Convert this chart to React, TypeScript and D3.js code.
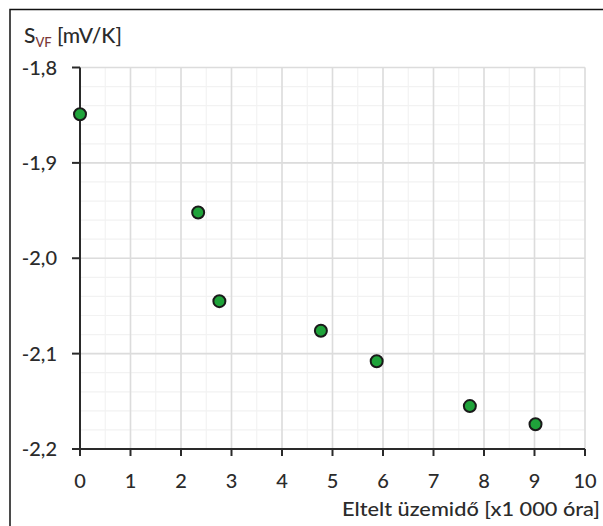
import React from "react";
import * as d3 from "d3";

const hoursK = [0, 2.34, 2.76, 4.77, 5.875, 7.72, 9.02];
const svfValues = [-1.849, -1.952, -2.045, -2.076, -2.108, -2.155, -2.174];
const xTicks = [0, 1, 2, 3, 4, 5, 6, 7, 8, 9, 10];
const yTicks = [-1.8, -1.9, -2.0, -2.1, -2.2];
const yTitleMain = "S";
const yTitleSub = "VF";
const yTitleUnit = " [mV/K]";
const xTitle = "Eltelt üzemidő [x1 000 óra]";

const W = 603;
const H = 526;

export default function App() {
  const x = d3.scaleLinear().domain([0, 10]).range([80, 585]);
  const y = d3.scaleLinear().domain([-2.2, -1.8]).range([449, 67.5]);
  const font = "Lato, 'Open Sans', sans-serif";
  const fmt = (v: number) => v.toFixed(1).replace(".", ",");

  const xMinor = d3.range(0, 10.001, 0.5);
  const yMinor = d3.range(0, 21).map((i) => -2.2 + i * 0.02);

  return (
    <svg
      width={W}
      height={H}
      style={{ position: "absolute", left: 0, top: 0, background: "#fff" }}
    >
      <rect x={10} y={9.5} width={W + 10} height={H + 10} fill="#fff" stroke="#111" strokeWidth={1.5} />
      {/* minor grid */}
      {xMinor.map((v) => (
        <line key={"xm" + v} x1={x(v)} x2={x(v)} y1={y(-1.8)} y2={y(-2.2)} stroke="#f2f2f2" strokeWidth={1.2} />
      ))}
      {yMinor.map((v) => (
        <line key={"ym" + v} x1={x(0)} x2={x(10)} y1={y(v)} y2={y(v)} stroke="#f2f2f2" strokeWidth={1.2} />
      ))}
      {/* major grid */}
      {xTicks.map((v) => (
        <line key={"xg" + v} x1={x(v)} x2={x(v)} y1={y(-1.8)} y2={y(-2.2)} stroke="#dcdcdc" strokeWidth={1.6} />
      ))}
      {yTicks.map((v) => (
        <line key={"yg" + v} x1={x(0)} x2={x(10)} y1={y(v)} y2={y(v)} stroke="#dcdcdc" strokeWidth={1.6} />
      ))}
      {/* axes */}
      <line x1={x(0)} x2={x(0)} y1={y(-1.8)} y2={y(-2.2) + 1} stroke="#2a2a2a" strokeWidth={2} />
      <line x1={x(0) - 1} x2={x(10)} y1={y(-2.2)} y2={y(-2.2)} stroke="#2a2a2a" strokeWidth={2} />
      {yTicks.map((v) => (
        <g key={"yt" + v}>
          <line x1={x(0) - 8} x2={x(0)} y1={y(v)} y2={y(v)} stroke="#2a2a2a" strokeWidth={2} />
          <text
            x={57}
            y={y(v)}
            dy="0.36em"
            textAnchor="end"
            fontFamily={font}
            fontSize={20}
            fontWeight={500}
            fill="#2b2b2b"
          >
            {fmt(v)}
          </text>
        </g>
      ))}
      {xTicks.map((v) => (
        <g key={"xt" + v}>
          <line x1={x(v)} x2={x(v)} y1={y(-2.2)} y2={y(-2.2) + 7} stroke="#2a2a2a" strokeWidth={2} />
          <text
            x={x(v)}
            y={488}
            textAnchor="middle"
            fontFamily={font}
            fontSize={20}
            fontWeight={500}
            fill="#2b2b2b"
          >
            {v}
          </text>
        </g>
      ))}
      {/* points */}
      {hoursK.map((h, i) => (
        <circle
          key={"p" + i}
          cx={x(h)}
          cy={y(svfValues[i])}
          r={6}
          fill="#1fa33a"
          stroke="#1a1a1a"
          strokeWidth={2}
        />
      ))}
      {/* titles */}
      <text x={24} y={43} fontFamily={font} fontSize={21} fontWeight={500} fill="#2b2b2b">
        {yTitleMain}
        <tspan fontSize={13} dy={4} fill="#7a3838">{yTitleSub}</tspan>
        <tspan dy={-4}>{yTitleUnit}</tspan>
      </text>
      <text
        x={600}
        y={516}
        textAnchor="end"
        fontFamily={font}
        fontSize={20}
        fontWeight={500}
        fill="#2b2b2b"
        textLength={258}
        lengthAdjust="spacingAndGlyphs"
      >
        {xTitle}
      </text>
    </svg>
  );
}
